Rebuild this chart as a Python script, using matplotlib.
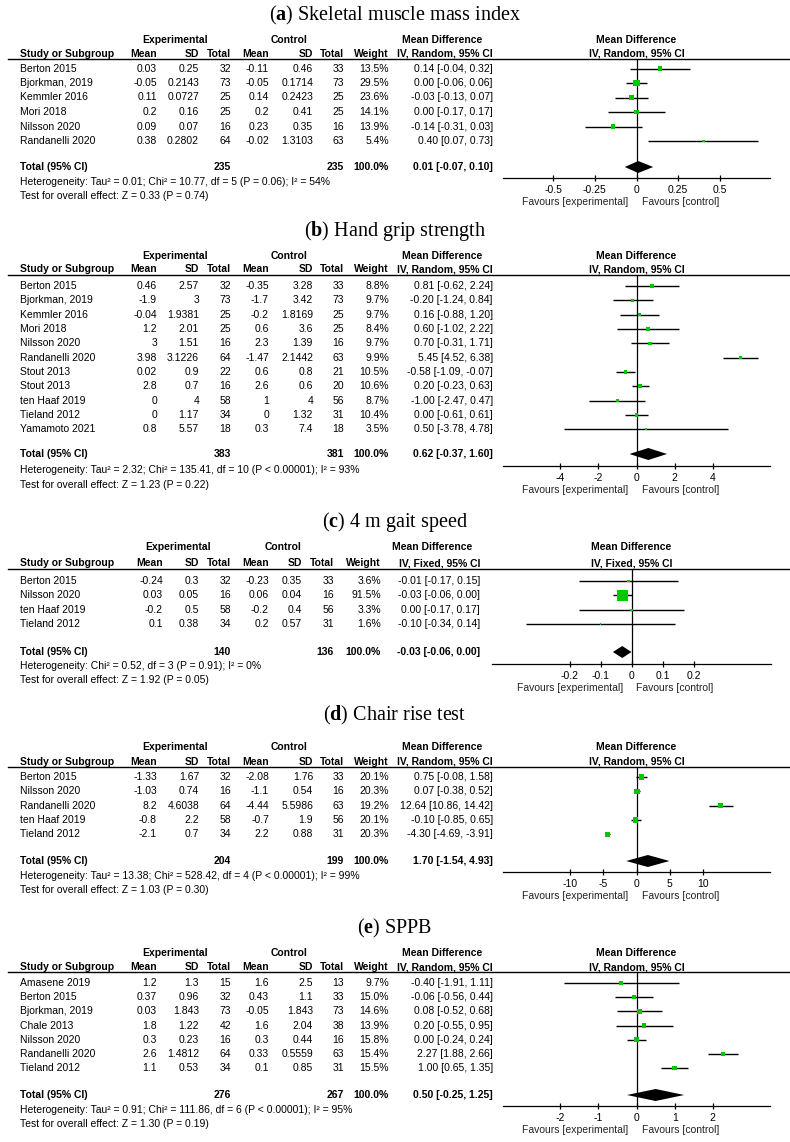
import matplotlib
matplotlib.use('Agg')
import matplotlib.pyplot as plt

plt.rcParams['font.family'] = ['Liberation Sans', 'DejaVu Sans']
plt.rcParams['axes.unicode_minus'] = False
plt.rcParams['mathtext.fontset'] = 'custom'
plt.rcParams['mathtext.rm'] = 'Liberation Serif'
plt.rcParams['mathtext.bf'] = 'Liberation Serif:bold'

# ---- (a) Skeletal muscle mass index ----
smi_study = ['Berton 2015', 'Bjorkman, 2019', 'Kemmler 2016', 'Mori 2018', 'Nilsson 2020', 'Randanelli 2020']
smi_exp_mean = [0.03, -0.05, 0.11, 0.2, 0.09, 0.38]
smi_exp_sd = [0.25, 0.2143, 0.0727, 0.16, 0.07, 0.2802]
smi_exp_n = [32, 73, 25, 25, 16, 64]
smi_ctl_mean = [-0.11, -0.05, 0.14, 0.2, 0.23, -0.02]
smi_ctl_sd = [0.46, 0.1714, 0.2423, 0.41, 0.35, 1.3103]
smi_ctl_n = [33, 73, 25, 25, 16, 63]
smi_weight = [13.5, 29.5, 23.6, 14.1, 13.9, 5.4]
smi_md = [0.14, 0.00, -0.03, 0.00, -0.14, 0.40]
smi_lo = [-0.04, -0.06, -0.13, -0.17, -0.31, 0.07]
smi_hi = [0.32, 0.06, 0.07, 0.17, 0.03, 0.73]
smi_total = [235, 235, 0.01, -0.07, 0.10]
smi_ticks = [-0.5, -0.25, 0, 0.25, 0.5]

# ---- (b) Hand grip strength ----
hgs_study = ['Berton 2015', 'Bjorkman, 2019', 'Kemmler 2016', 'Mori 2018', 'Nilsson 2020', 'Randanelli 2020',
             'Stout 2013', 'Stout 2013', 'ten Haaf 2019', 'Tieland 2012', 'Yamamoto 2021']
hgs_exp_mean = [0.46, -1.9, -0.04, 1.2, 3, 3.98, 0.02, 2.8, 0, 0, 0.8]
hgs_exp_sd = [2.57, 3, 1.9381, 2.01, 1.51, 3.1226, 0.9, 0.7, 4, 1.17, 5.57]
hgs_exp_n = [32, 73, 25, 25, 16, 64, 22, 16, 58, 34, 18]
hgs_ctl_mean = [-0.35, -1.7, -0.2, 0.6, 2.3, -1.47, 0.6, 2.6, 1, 0, 0.3]
hgs_ctl_sd = [3.28, 3.42, 1.8169, 3.6, 1.39, 2.1442, 0.8, 0.6, 4, 1.32, 7.4]
hgs_ctl_n = [33, 73, 25, 25, 16, 63, 21, 20, 56, 31, 18]
hgs_weight = [8.8, 9.7, 9.7, 8.4, 9.7, 9.9, 10.5, 10.6, 8.7, 10.4, 3.5]
hgs_md = [0.81, -0.20, 0.16, 0.60, 0.70, 5.45, -0.58, 0.20, -1.00, 0.00, 0.50]
hgs_lo = [-0.62, -1.24, -0.88, -1.02, -0.31, 4.52, -1.09, -0.23, -2.47, -0.61, -3.78]
hgs_hi = [2.24, 0.84, 1.20, 2.22, 1.71, 6.38, -0.07, 0.63, 0.47, 0.61, 4.78]
hgs_total = [383, 381, 0.62, -0.37, 1.60]
hgs_ticks = [-4, -2, 0, 2, 4]

# ---- (c) 4 m gait speed ----
gait_study = ['Berton 2015', 'Nilsson 2020', 'ten Haaf 2019', 'Tieland 2012']
gait_exp_mean = [-0.24, 0.03, -0.2, 0.1]
gait_exp_sd = [0.3, 0.05, 0.5, 0.38]
gait_exp_n = [32, 16, 58, 34]
gait_ctl_mean = [-0.23, 0.06, -0.2, 0.2]
gait_ctl_sd = [0.35, 0.04, 0.4, 0.57]
gait_ctl_n = [33, 16, 56, 31]
gait_weight = [3.6, 91.5, 3.3, 1.6]
gait_md = [-0.01, -0.03, 0.00, -0.10]
gait_lo = [-0.17, -0.06, -0.17, -0.34]
gait_hi = [0.15, 0.00, 0.17, 0.14]
gait_total = [140, 136, -0.03, -0.06, 0.00]
gait_ticks = [-0.2, -0.1, 0, 0.1, 0.2]

# ---- (d) Chair rise test ----
crt_study = ['Berton 2015', 'Nilsson 2020', 'Randanelli 2020', 'ten Haaf 2019', 'Tieland 2012']
crt_exp_mean = [-1.33, -1.03, 8.2, -0.8, -2.1]
crt_exp_sd = [1.67, 0.74, 4.6038, 2.2, 0.7]
crt_exp_n = [32, 16, 64, 58, 34]
crt_ctl_mean = [-2.08, -1.1, -4.44, -0.7, 2.2]
crt_ctl_sd = [1.76, 0.54, 5.5986, 1.9, 0.88]
crt_ctl_n = [33, 16, 63, 56, 31]
crt_weight = [20.1, 20.3, 19.2, 20.1, 20.3]
crt_md = [0.75, 0.07, 12.64, -0.10, -4.30]
crt_lo = [-0.08, -0.38, 10.86, -0.85, -4.69]
crt_hi = [1.58, 0.52, 14.42, 0.65, -3.91]
crt_total = [204, 199, 1.70, -1.54, 4.93]
crt_ticks = [-10, -5, 0, 5, 10]

# ---- (e) SPPB ----
sppb_study = ['Amasene 2019', 'Berton 2015', 'Bjorkman, 2019', 'Chale 2013', 'Nilsson 2020', 'Randanelli 2020', 'Tieland 2012']
sppb_exp_mean = [1.2, 0.37, 0.03, 1.8, 0.3, 2.6, 1.1]
sppb_exp_sd = [1.3, 0.96, 1.843, 1.22, 0.23, 1.4812, 0.53]
sppb_exp_n = [15, 32, 73, 42, 16, 64, 34]
sppb_ctl_mean = [1.6, 0.43, -0.05, 1.6, 0.3, 0.33, 0.1]
sppb_ctl_sd = [2.5, 1.1, 1.843, 2.04, 0.44, 0.5559, 0.85]
sppb_ctl_n = [13, 33, 73, 38, 16, 63, 31]
sppb_weight = [9.7, 15.0, 14.6, 13.9, 15.8, 15.4, 15.5]
sppb_md = [-0.40, -0.06, 0.08, 0.20, 0.00, 2.27, 1.00]
sppb_lo = [-1.91, -0.56, -0.52, -0.55, -0.24, 1.88, 0.65]
sppb_hi = [1.11, 0.44, 0.68, 0.95, 0.24, 2.66, 1.35]
sppb_total = [276, 267, 0.50, -0.25, 1.25]
sppb_ticks = [-2, -1, 0, 1, 2]

titles = ['Skeletal muscle mass index', 'Hand grip strength', '4 m gait speed', 'Chair rise test', 'SPPB']
letters = ['a', 'b', 'c', 'd', 'e']
methods = ['IV, Random, 95% CI', 'IV, Random, 95% CI', 'IV, Fixed, 95% CI', 'IV, Random, 95% CI', 'IV, Random, 95% CI']
het_texts = [
    'Heterogeneity: Tau² = 0.01; Chi² = 10.77, df = 5 (P = 0.06); I² = 54%',
    'Heterogeneity: Tau² = 2.32; Chi² = 135.41, df = 10 (P < 0.00001); I² = 93%',
    'Heterogeneity: Chi² = 0.52, df = 3 (P = 0.91); I² = 0%',
    'Heterogeneity: Tau² = 13.38; Chi² = 528.42, df = 4 (P < 0.00001); I² = 99%',
    'Heterogeneity: Tau² = 0.91; Chi² = 111.86, df = 6 (P < 0.00001); I² = 95%',
]
test_texts = [
    'Test for overall effect: Z = 0.33 (P = 0.74)',
    'Test for overall effect: Z = 1.23 (P = 0.22)',
    'Test for overall effect: Z = 1.92 (P = 0.05)',
    'Test for overall effect: Z = 1.03 (P = 0.30)',
    'Test for overall effect: Z = 1.30 (P = 0.19)',
]

panels = [
    (smi_study, smi_exp_mean, smi_exp_sd, smi_exp_n, smi_ctl_mean, smi_ctl_sd, smi_ctl_n,
     smi_weight, smi_md, smi_lo, smi_hi, smi_total, smi_ticks),
    (hgs_study, hgs_exp_mean, hgs_exp_sd, hgs_exp_n, hgs_ctl_mean, hgs_ctl_sd, hgs_ctl_n,
     hgs_weight, hgs_md, hgs_lo, hgs_hi, hgs_total, hgs_ticks),
    (gait_study, gait_exp_mean, gait_exp_sd, gait_exp_n, gait_ctl_mean, gait_ctl_sd, gait_ctl_n,
     gait_weight, gait_md, gait_lo, gait_hi, gait_total, gait_ticks),
    (crt_study, crt_exp_mean, crt_exp_sd, crt_exp_n, crt_ctl_mean, crt_ctl_sd, crt_ctl_n,
     crt_weight, crt_md, crt_lo, crt_hi, crt_total, crt_ticks),
    (sppb_study, sppb_exp_mean, sppb_exp_sd, sppb_exp_n, sppb_ctl_mean, sppb_ctl_sd, sppb_ctl_n,
     sppb_weight, sppb_md, sppb_lo, sppb_hi, sppb_total, sppb_ticks),
]

# layout in pixels (title, header1, header2, line, first row, row step, total, het, test, axis)
layouts = [
    dict(title=15, h1=40, h2=54, line=59, row0=68.5, dy=14.5, total=167, het=182, test=196, axis=178),
    dict(title=231, h1=256, h2=269, line=275, row0=286, dy=14.33, total=454, het=470, test=485, axis=466),
    dict(title=522, h1=547, h2=563, line=569, row0=581, dy=14.4, total=652, het=666, test=680, axis=664),
    dict(title=715, h1=747, h2=762, line=767, row0=777, dy=14.3, total=861, het=876, test=890, axis=872),
    dict(title=928, h1=953, h2=967, line=972, row0=983, dy=14.2, total=1095, het=1110, test=1124, axis=1106),
]
cols_std = dict(cols=[157, 199, 231, 269, 313, 344, 389, 493], exp=175, ctl=289, mdh=442)
cols_gait = dict(cols=[163, 199, 231, 269, 302, 334, 381, 480], exp=178, ctl=283, mdh=432)
col_sets = [cols_std, cols_std, cols_gait, cols_std, cols_std]
plot_x = [(503, 770), (503, 770), (492, 771), (503, 770), (503, 770)]
plot_lim = [(-0.8, 0.8), (-7, 7), (-0.45, 0.45), (-20, 20), (-3.5, 3.5)]

W, H = 790, 1142
FS = 7.5
GREEN = '#00c800'

fig = plt.figure(figsize=(W / 100, H / 100), dpi=100)
bg = fig.add_axes([0, 0, 1, 1])
bg.set_xlim(0, W)
bg.set_ylim(H, 0)
bg.axis('off')


def txt(x, y, s, ha='right', bold=False):
    bg.text(x, y, s, ha=ha, va='center', fontsize=FS, fontweight='bold' if bold else 'normal')


def ci_str(m, lo, hi):
    return f'{m:.2f} [{lo:.2f}, {hi:.2f}]'


for k in range(5):
    (study, em, esd, en, cm, csd, cn, wt, md, lo, hi, tot, ticks) = panels[k]
    lay = layouts[k]
    cs = col_sets[k]
    c = cs['cols']

    bg.text(W / 2, lay['title'], f'($\\mathbf{{{letters[k]}}}$) {titles[k]}', ha='center', va='center',
            fontsize=14.5, family='Liberation Serif')

    # table header
    txt(cs['exp'], lay['h1'], 'Experimental', ha='center', bold=True)
    txt(cs['ctl'], lay['h1'], 'Control', ha='center', bold=True)
    txt(cs['mdh'], lay['h1'], 'Mean Difference', ha='center', bold=True)
    txt(20, lay['h2'], 'Study or Subgroup', ha='left', bold=True)
    for x, lab in zip(c, ['Mean', 'SD', 'Total', 'Mean', 'SD', 'Total', 'Weight', methods[k]]):
        txt(x, lay['h2'], lab, bold=True)
    bg.plot([8, W], [lay['line'], lay['line']], color='k', lw=1)

    # study rows
    ys = [lay['row0'] + i * lay['dy'] for i in range(len(study))]
    for i, y in enumerate(ys):
        txt(20, y, study[i], ha='left')
        vals = [f'{em[i]:g}', f'{esd[i]:g}', f'{en[i]}', f'{cm[i]:g}', f'{csd[i]:g}', f'{cn[i]}',
                f'{wt[i]:.1f}%', ci_str(md[i], lo[i], hi[i])]
        for x, v in zip(c, vals):
            txt(x, y, v)

    # total row
    ty = lay['total']
    txt(20, ty, 'Total (95% CI)', ha='left', bold=True)
    txt(c[2], ty, f'{tot[0]}', bold=True)
    txt(c[5], ty, f'{tot[1]}', bold=True)
    txt(c[6], ty, '100.0%', bold=True)
    txt(c[7], ty, ci_str(tot[2], tot[3], tot[4]), bold=True)
    txt(20, lay['het'], het_texts[k], ha='left')
    txt(20, lay['test'], test_texts[k], ha='left')

    # forest plot
    x0, x1 = plot_x[k]
    ax = fig.add_axes([x0 / W, 1 - lay['axis'] / H, (x1 - x0) / W, (lay['axis'] - lay['line']) / H])
    ax.set_xlim(*plot_lim[k])
    ax.set_ylim(lay['axis'], lay['line'])
    ax.patch.set_alpha(0)
    for s in ['top', 'left', 'right']:
        ax.spines[s].set_visible(False)
    ax.spines['bottom'].set_linewidth(0.9)
    ax.set_yticks([])
    ax.set_xticks(ticks)
    ax.set_xticklabels([f'{t:g}' for t in ticks])
    ax.tick_params(axis='x', direction='inout', length=4.5, width=0.9, pad=2.5, labelsize=FS)
    ax.axvline(0, color='k', lw=0.9)
    ax.hlines(ys, lo, hi, color='k', lw=1)
    ax.scatter(md, ys, marker='s', s=[w * 0.7 for w in wt], color=GREEN, linewidths=0, zorder=3)
    hh = 6
    ax.fill([tot[3], tot[2], tot[4], tot[2]], [ty, ty - hh, ty, ty + hh], color='k', lw=0, zorder=3)

    ax.annotate('Mean Difference', xy=(0, 1), xycoords=('data', 'axes fraction'),
                xytext=(0, lay['line'] - lay['h1']), textcoords='offset pixels',
                ha='center', va='center', fontsize=FS, fontweight='bold', annotation_clip=False)
    ax.annotate(methods[k], xy=(0, 1), xycoords=('data', 'axes fraction'),
                xytext=(0, lay['line'] - lay['h2']), textcoords='offset pixels',
                ha='center', va='center', fontsize=FS, fontweight='bold', annotation_clip=False)
    ax.annotate('Favours [experimental]', xy=(0, 0), xycoords=('data', 'axes fraction'),
                xytext=(-8, -24), textcoords='offset pixels',
                ha='right', va='center', fontsize=FS, color='#222222', annotation_clip=False)
    ax.annotate('Favours [control]', xy=(0, 0), xycoords=('data', 'axes fraction'),
                xytext=(5, -24), textcoords='offset pixels',
                ha='left', va='center', fontsize=FS, color='#222222', annotation_clip=False)

fig.savefig('out.png', dpi=100)
